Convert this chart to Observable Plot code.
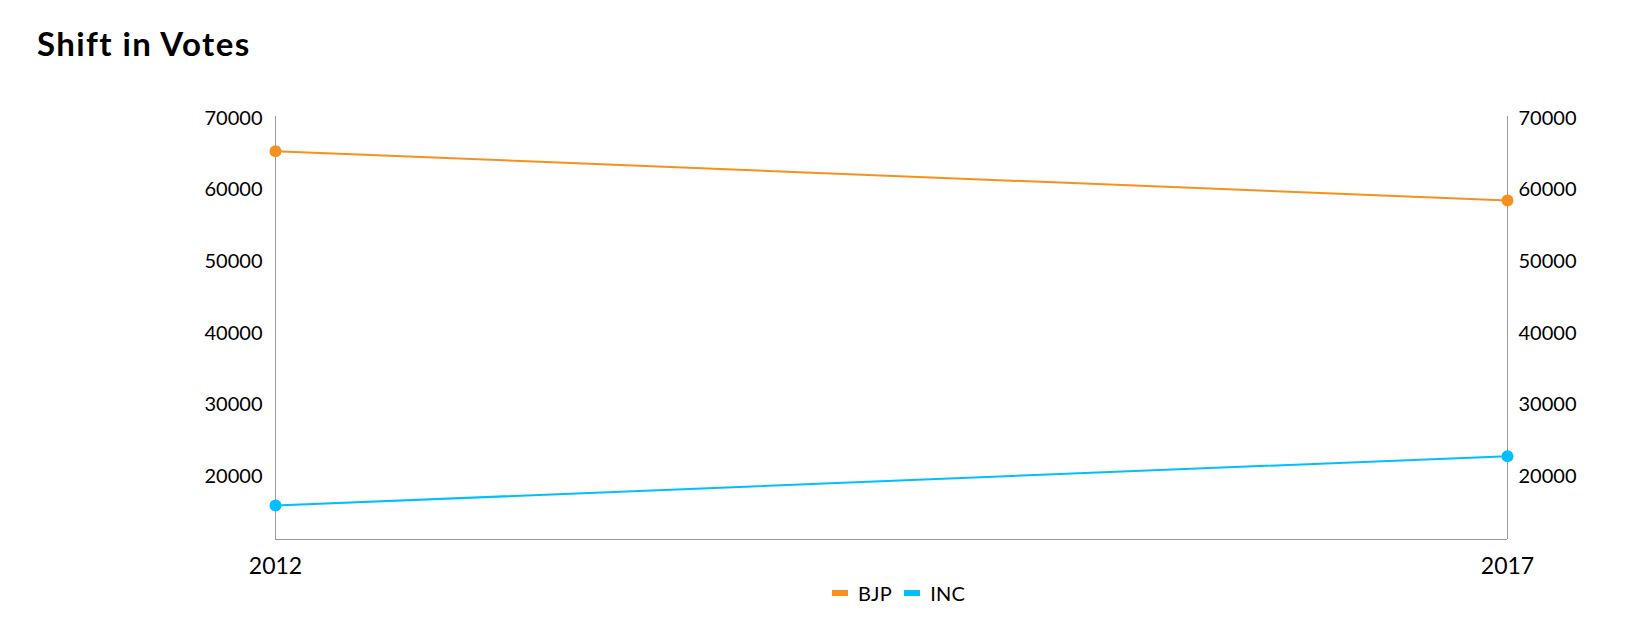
<!DOCTYPE html>
<html>
<head>
<meta charset="utf-8">
<script src="https://cdn.jsdelivr.net/npm/d3@7"></script>
<script src="https://cdn.jsdelivr.net/npm/@observablehq/plot@0.6"></script>
<style>
  html, body { margin: 0; padding: 0; background: #fff; }
  body { width: 1631px; height: 641px; position: relative; overflow: hidden; font-family: Lato, "Open Sans", sans-serif; }
  #title { position: absolute; left: 37px; top: 27px; font-size: 33px; line-height: 33px; font-weight: 700; color: #000; margin: 0; letter-spacing: 1.4px; }
  #chart { position: absolute; left: 0; top: 0; }
  #legend { position: absolute; left: 832px; top: 583px; height: 20px; display: flex; align-items: center; font-size: 20px; line-height: 20px; color: #000; letter-spacing: 0.3px; }
  .sw { display: inline-block; width: 16px; height: 6px; margin-right: 10px; }
  .item { display: flex; align-items: center; margin-right: 12px; }
</style>
</head>
<body>
<div id="title">Shift in Votes</div>
<div id="chart"></div>
<div id="legend"></div>
<script>
const years = ["2012", "2017"];
const series = ["BJP", "INC"];
const bjpVotes = [65430, 58540];
const incVotes = [15900, 22800];
const yTicks = [20000, 30000, 40000, 50000, 60000, 70000];
const colors = ["#F7901E", "#00BFFF"];

const yDomain = [11150, 70280];

const data = years.flatMap((yr, i) => [
  {year: yr, party: "BJP", votes: bjpVotes[i]},
  {year: yr, party: "INC", votes: incVotes[i]}
]);

const fmt = d => String(d);

const chart = Plot.plot({
  width: 1631,
  height: 600,
  marginLeft: 275,
  marginRight: 124,
  marginTop: 116,
  marginBottom: 61,
  x: {type: "point", domain: years, padding: 0},
  y: {domain: yDomain},
  color: {domain: series, range: colors},
  style: {fontFamily: "Lato, 'Open Sans', sans-serif", fontSize: "20px", color: "#000", background: "transparent"},
  marks: [
    Plot.ruleX(years, {x: d => d, stroke: "#999", strokeWidth: 1}),
    Plot.ruleY([yDomain[0]], {stroke: "#999", strokeWidth: 1}),
    Plot.axisY(yTicks, {anchor: "left", tickSize: 0, tickPadding: 13, fontSize: 20, tickFormat: fmt, label: null, style: {letterSpacing: "0.6px"}}),
    Plot.axisY(yTicks, {anchor: "right", tickSize: 0, tickPadding: 11, fontSize: 20, tickFormat: fmt, label: null, style: {letterSpacing: "0.6px"}}),
    Plot.axisX(years, {tickSize: 0, tickPadding: 18, fontSize: 23, label: null}),
    Plot.line(data, {x: "year", y: "votes", stroke: "party", strokeWidth: 2}),
    Plot.dot(data, {x: "year", y: "votes", fill: "party", r: 6})
  ]
});
document.getElementById("chart").appendChild(chart);

const legend = document.getElementById("legend");
series.forEach((s, i) => {
  const item = document.createElement("span");
  item.className = "item";
  const sw = document.createElement("span");
  sw.className = "sw";
  sw.style.background = colors[i];
  item.appendChild(sw);
  item.appendChild(document.createTextNode(s));
  legend.appendChild(item);
});
</script>
</body>
</html>
